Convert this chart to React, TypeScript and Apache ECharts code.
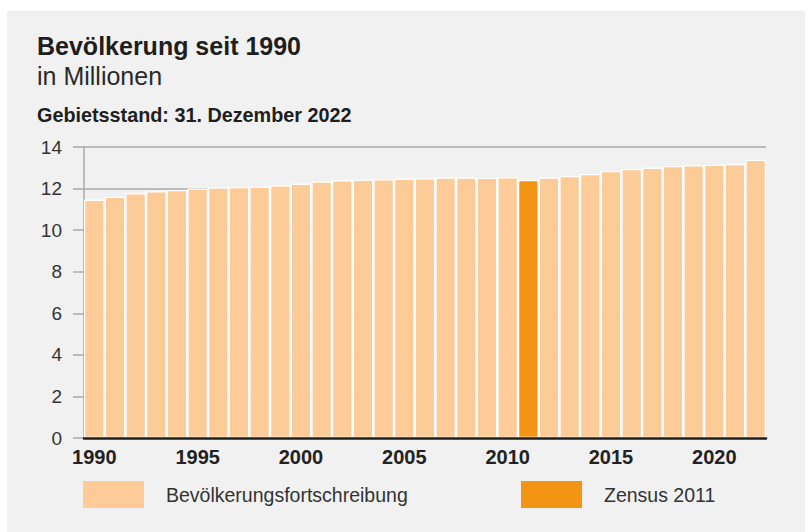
import React, { useEffect, useRef } from "react";
import * as echarts from "echarts";

const years: string[] = [
  "1990", "1991", "1992", "1993", "1994", "1995", "1996", "1997", "1998", "1999",
  "2000", "2001", "2002", "2003", "2004", "2005", "2006", "2007", "2008", "2009",
  "2010", "2011", "2012", "2013", "2014", "2015", "2016", "2017", "2018", "2019",
  "2020", "2021", "2022",
];

const fortschreibung: (number | null)[] = [
  11.47, 11.61, 11.78, 11.87, 11.93, 12.0, 12.05, 12.08, 12.1, 12.16,
  12.24, 12.34, 12.4, 12.43, 12.45, 12.48, 12.5, 12.53, 12.53, 12.52,
  12.55, null, 12.53, 12.61, 12.7, 12.85, 12.94, 13.01, 13.09, 13.13,
  13.15, 13.19, 13.39,
];

const zensus: (number | null)[] = [
  null, null, null, null, null, null, null, null, null, null,
  null, null, null, null, null, null, null, null, null, null,
  null, 12.41, null, null, null, null, null, null, null, null,
  null, null, null,
];

const yTicks = { min: 0, max: 14, interval: 2 };

const FONT = "'Liberation Sans', Arial, Helvetica, sans-serif";
const LIGHT = "#fccb97";
const DARK = "#f39415";

export default function App() {
  const ref = useRef<HTMLDivElement>(null);

  useEffect(() => {
    if (!ref.current) return;
    const chart = echarts.init(ref.current, undefined, { renderer: "svg" });
    const legendText = {
      fontSize: 19.5,
      color: "#333",
      fontFamily: FONT,
      padding: [0, 0, 0, 17],
    };
    chart.setOption({
      animation: false,
      backgroundColor: "#ffffff",
      textStyle: { fontFamily: FONT },
      graphic: [
        {
          type: "rect",
          z: -100,
          silent: true,
          shape: { x: 7, y: 11, width: 798, height: 521 },
          style: { fill: "#f1f1f1" },
        },
        {
          type: "text",
          x: 37,
          y: 46,
          style: {
            text: "Bevölkerung seit 1990",
            font: `bold 25px ${FONT}`,
            fill: "#1e1e1e",
            verticalAlign: "middle",
          },
        },
        {
          type: "text",
          x: 37,
          y: 76,
          style: {
            text: "in Millionen",
            font: `25px ${FONT}`,
            fill: "#2a2a2a",
            verticalAlign: "middle",
          },
        },
        {
          type: "text",
          x: 37,
          y: 115,
          style: {
            text: "Gebietsstand: 31. Dezember 2022",
            font: `bold 19.8px ${FONT}`,
            fill: "#1e1e1e",
            verticalAlign: "middle",
          },
        },
      ],
      grid: { left: 84, right: 42, top: 147, bottom: 94, containLabel: false },
      legend: [
        {
          data: ["Bevölkerungsfortschreibung"],
          left: 83,
          top: 481,
          padding: 0,
          itemWidth: 61,
          itemHeight: 27,
          icon: "rect",
          itemStyle: { borderWidth: 0 },
          selectedMode: false,
          textStyle: legendText,
        },
        {
          data: ["Zensus 2011"],
          left: 521,
          top: 481,
          padding: 0,
          itemWidth: 61,
          itemHeight: 27,
          icon: "rect",
          itemStyle: { borderWidth: 0 },
          selectedMode: false,
          textStyle: legendText,
        },
      ],
      xAxis: {
        type: "category",
        data: years,
        z: 5,
        axisLine: { show: true, lineStyle: { color: "#1e1e1e", width: 2.5 } },
        axisTick: { show: false },
        axisLabel: {
          interval: 4,
          margin: 9,
          fontSize: 20,
          fontWeight: "bold",
          color: "#222",
          fontFamily: FONT,
        },
        splitLine: { show: false },
      },
      yAxis: {
        type: "value",
        min: yTicks.min,
        max: yTicks.max,
        interval: yTicks.interval,
        axisLine: { show: true, lineStyle: { color: "#a8a8a8", width: 1.5 } },
        axisTick: { show: true, length: 11, lineStyle: { color: "#a8a8a8", width: 1.5 } },
        axisLabel: { margin: 22, fontSize: 19, color: "#333", fontFamily: FONT },
        splitLine: { show: true, lineStyle: { color: "#a8a8a8", width: 1.5 } },
      },
      series: [
        {
          name: "Bevölkerungsfortschreibung",
          type: "bar",
          data: fortschreibung,
          barCategoryGap: "0%",
          barGap: "-100%",
          itemStyle: { color: LIGHT, borderColor: "#ffffff", borderWidth: 1.3 },
        },
        {
          name: "Zensus 2011",
          type: "bar",
          data: zensus,
          barCategoryGap: "0%",
          barGap: "-100%",
          itemStyle: { color: DARK, borderColor: "#ffffff", borderWidth: 1.3 },
        },
      ],
    });
    return () => chart.dispose();
  }, []);

  return (
    <div
      ref={ref}
      style={{ position: "absolute", left: 0, top: 0, width: 808, height: 532 }}
    />
  );
}
